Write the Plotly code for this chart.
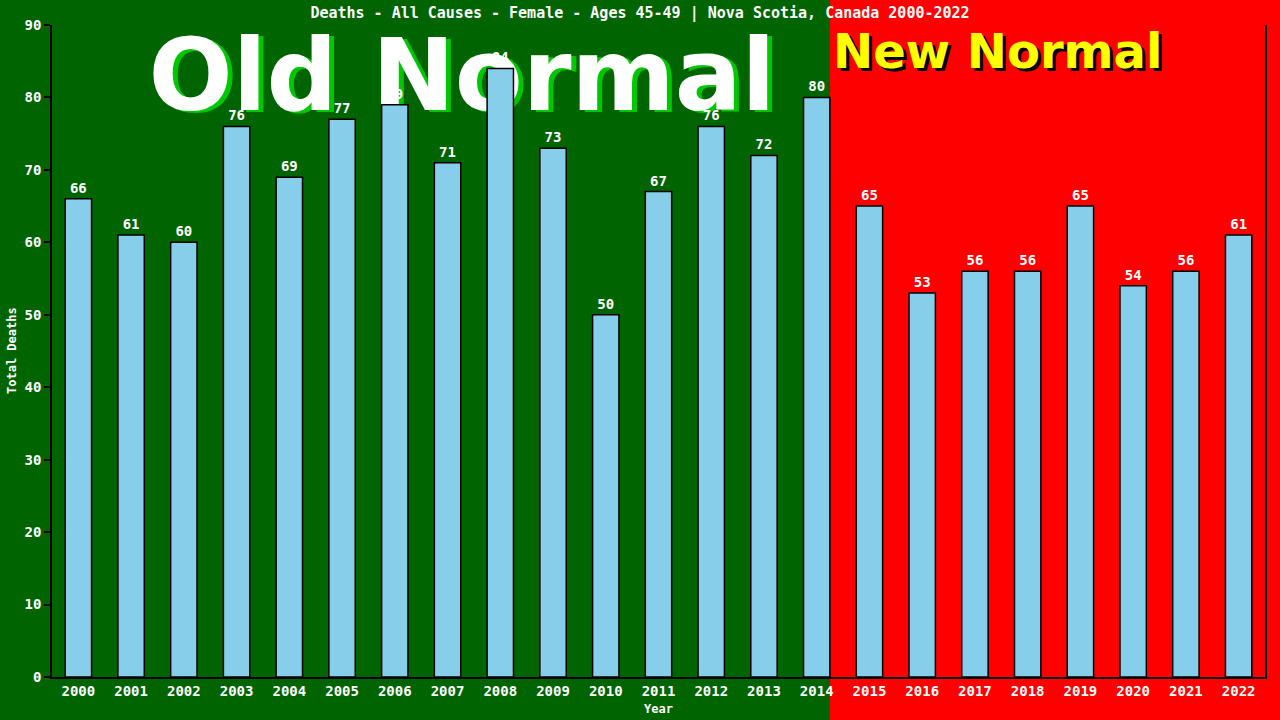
import plotly.graph_objects as go

# data
YEARS = [str(y) for y in range(2000, 2023)]
DEATHS = [66, 61, 60, 76, 69, 77, 79, 71, 84, 73, 50, 67, 76, 72, 80,
          65, 53, 56, 56, 65, 54, 56, 61]
LAST_OLD_YEAR = '2014'

TITLE = 'Deaths - All Causes - Female - Ages 45-49 | Nova Scotia, Canada 2000-2022'

# style
W, H = 1280, 720
MARGIN = dict(l=52, r=15, t=25, b=43)
GREEN_BG = '#006400'
RED_BG = '#FF0000'
BAR = '#87CEEB'
MONO = 'DejaVu Sans Mono'
SANS = 'DejaVu Sans'
BAR_WIDTH = 0.5

PW = W - MARGIN['l'] - MARGIN['r']
PH = H - MARGIN['t'] - MARGIN['b']


def px_x(px):
    return (px - MARGIN['l']) / PW


def px_y(py):
    return (H - MARGIN['b'] - py) / PH


def mono(size):
    return dict(family=MONO, size=size, color='white', weight='bold')


def text_shape(text, cx, cy, size, color, pos='middle center', half_w=0.3, half_h=0.05):
    return dict(
        type='rect', xref='paper', yref='paper', layer='below',
        x0=cx - (0 if 'left' in pos else half_w), x1=cx + half_w,
        y0=cy - half_h, y1=cy + half_h,
        line=dict(width=0), fillcolor='rgba(0,0,0,0)',
        label=dict(text=text, textposition=pos, padding=0,
                   font=dict(family=SANS, size=size, color=color, weight='bold')),
    )


fig = go.Figure()
fig.add_trace(go.Bar(
    x=YEARS, y=DEATHS,
    width=BAR_WIDTH,
    marker=dict(color=BAR, line=dict(color='#000000', width=1.5)),
    text=[str(v) for v in DEATHS],
    textposition='outside',
    textfont=mono(14),
    cliponaxis=False,
    showlegend=False,
))

# red "new normal" background starts at the right edge of the last old bar
split = (YEARS.index(LAST_OLD_YEAR) + 0.5 + BAR_WIDTH / 2) / len(YEARS)

shapes = [
    dict(type='rect', xref='x domain', yref='paper', layer='below',
         x0=split, x1=1.2, y0=-0.2, y1=1.2,
         fillcolor=RED_BG, line=dict(width=0)),
    # Old Normal: green shadow then white
    text_shape('Old Normal', px_x(462 + 5), px_y(68 + 2), 99, '#00C800'),
    text_shape('Old Normal', px_x(462), px_y(68), 99, 'white'),
    # New Normal: black shadow then yellow
    text_shape('New Normal', px_x(830 + 3), px_y(48 + 3), 48, '#000000', pos='middle left'),
    text_shape('New Normal', px_x(830), px_y(48), 48, '#FFFF00', pos='middle left'),
]

fig.update_layout(
    width=W, height=H,
    margin=MARGIN,
    paper_bgcolor=GREEN_BG,
    plot_bgcolor='rgba(0,0,0,0)',
    shapes=shapes,
    title=dict(text=TITLE, x=0.5, xanchor='center', y=1 - 13 / H, yanchor='middle',
               font=mono(15)),
    annotations=[
        dict(text='Year', xref='paper', yref='paper', x=0.5, y=px_y(709),
             xanchor='center', yanchor='middle', showarrow=False, font=mono(12)),
        dict(text='Total Deaths', xref='paper', yref='paper', x=px_x(12), y=0.5,
             xanchor='center', yanchor='middle', textangle=-90,
             showarrow=False, font=mono(12)),
    ],
)

fig.update_xaxes(
    showline=True, linecolor='black', linewidth=1.5,
    ticks='', showgrid=False, zeroline=False,
    tickfont=mono(14),
)
fig.update_yaxes(
    range=[0, 90], dtick=10,
    showline=True, linecolor='black', linewidth=1.5, mirror=True,
    ticks='outside', ticklen=6, tickcolor='black', tickwidth=1.5,
    showgrid=False, zeroline=False,
    tickfont=mono(14),
)

# drop the default page margin so the chart sits at the window's corner
fig.write_html('out.html', config={'displayModeBar': False},
               post_script="document.body.style.margin='0';")
